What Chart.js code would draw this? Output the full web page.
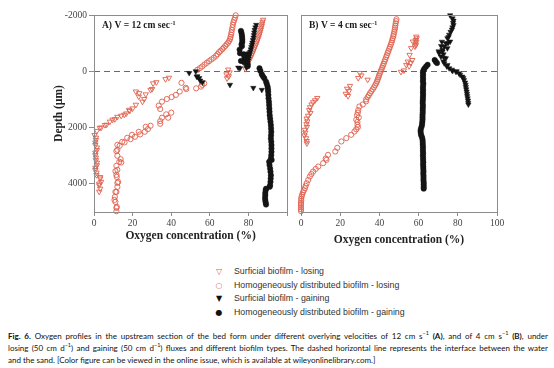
<!DOCTYPE html>
<html>
<head>
<meta charset="utf-8">
<script src="https://cdn.jsdelivr.net/npm/chart.js@4.4.0/dist/chart.umd.min.js"></script>
<style>
body { margin: 0; background: #fff; width: 554px; height: 368px; position: relative; overflow: hidden; }
#chartA { position: absolute; left: 0; top: 0; }
#chartB { position: absolute; left: 292px; top: 0; }
#legend { position: absolute; left: 212px; top: 265px; font: 8.8px "Liberation Sans", Arial, sans-serif; color: #333; }
#legend div { height: 13.7px; line-height: 13.7px; white-space: nowrap; }
#legend .m { display: inline-block; width: 14px; text-align: center; margin-right: 8px; font-family: "DejaVu Sans"; font-size: 8px; }
#caption { position: absolute; left: 8px; top: 330px; width: 540px; font: 8px Lato, sans-serif; color: #111; }
#caption div { line-height: 12px; white-space: nowrap; }
#caption .j { text-align: justify; text-align-last: justify; white-space: normal; }
#caption sup { font-size: 5.5px; line-height: 0; }
</style>
</head>
<body>
<canvas id="chartA" width="292" height="250"></canvas>
<canvas id="chartB" width="262" height="250"></canvas>
<div id="legend">
  <div><span class="m" style="color:#e0604d">&#9661;</span>Surficial biofilm - losing</div>
  <div><span class="m" style="color:#e0604d">&#9675;</span>Homogeneously distributed biofilm - losing</div>
  <div><span class="m" style="color:#111">&#9660;</span>Surficial biofilm - gaining</div>
  <div><span class="m" style="color:#111">&#9679;</span>Homogeneously distributed biofilm - gaining</div>
</div>
<div id="caption">
  <div class="j"><b>Fig. 6.</b> Oxygen profiles in the upstream section of the bed form under different overlying velocities of 12 cm s<sup>&minus;1</sup> <b>(A)</b>, and of 4 cm s<sup>&minus;1</sup> <b>(B)</b>, under</div>
  <div class="j">losing (50 cm d<sup>&minus;1</sup>) and gaining (50 cm d<sup>&minus;1</sup>) fluxes and different biofilm types. The dashed horizontal line represents the interface between the water</div>
  <div>and the sand. [Color figure can be viewed in the online issue, which is available at wileyonlinelibrary.com.]</div>
</div>
<script>
var xTicks = [0, 20, 40, 60, 80, 100];
var depthTicks = [-2000, 0, 2000, 4000];

// panel A, V = 12 cm/s
var aSurfLosX = [87.6,87.3,87.1,86.9,86.6,86.4,86.1,85.8,85.5,85.2,84.8,84.5,84.1,83.7,83.3,82.9,82.5,82.1,81.6,81.2,80.7,80.2,79.7,79.2,78.8,78.4,
  69.5,70.2,68.6,69.8,68.9,
  37.0,38.8,32.3,30.6,30.1,29.3,26.8,26.0,25.1,23.4,21.7,23.2,21.7,20.0,18.2,18.4,16.7,15.7,14.1,12.1,10.8,9.6,8.2,6.5,5.7,3.7,3.0,1.5,
  0.3,1.0,1.0,0.7,0.7,1.5,1.5,0.7,0.7,1.0,1.0,1.5,1.5,0.7,0.7,1.3,1.3,3.2,3.2,3.7,2.7,2.7,3.2,2.7];
var aSurfLosD = [-1830,-1760,-1690,-1620,-1550,-1480,-1410,-1340,-1270,-1200,-1130,-1060,-990,-920,-850,-780,-710,-640,-570,-500,-430,-360,-290,-220,-150,-80,
  -60,40,110,180,250,
  280,230,390,430,630,660,820,985,1080,780,720,900,1190,1320,1370,1410,1500,1545,1580,1620,1700,1720,1790,1900,1910,2000,2010,2120,
  2270,2360,2440,2530,2620,2710,2800,2890,2980,3070,3160,3250,3340,3430,3510,3600,3690,3760,3810,3930,3990,4050,4170,4280];

var aHomLosX = [73.4,73.0,72.6,72.2,71.9,71.7,71.4,71.2,71.0,70.7,70.5,70.0,69.5,68.7,68.0,67.2,66.5,65.6,64.8,64.0,63.2,62.0,60.8,59.6,58.4,57.2,56.0,54.8,53.5,
  57.1,55.4,52.9,56.0,47.8,44.4,45.3,47.5,42.4,40.2,37.7,35.2,33.5,34.3,40.0,38.4,37.4,35.2,34.3,34.3,29.3,26.8,27.9,26.3,23.9,23.2,21.2,19.7,18.9,17.2,15.8,14.6,13.3,12.1,
  11.6,12.1,12.1,13.8,14.1,13.1,11.6,12.1,11.1,11.6,11.8,12.1,12.5,12.1,11.6,11.1,10.8,10.6,11.1,11.8,11.6,11.6];
var aHomLosD = [-1990,-1900,-1820,-1740,-1650,-1560,-1470,-1380,-1300,-1220,-1150,-1080,-1020,-960,-900,-840,-790,-730,-680,-610,-550,-480,-420,-360,-300,-240,-170,-110,-50,
  430,545,605,480,630,720,410,585,840,915,985,1080,1220,1340,1470,1650,1530,1650,1770,1865,1935,1972,2054,2148,2243,2150,2327,2257,2410,2364,2528,2506,2647,2613,
  2837,2791,3003,3122,3241,3218,3359,3502,3549,3680,3751,3966,3929,4107,4286,4285,4463,4571,4641,4819,4856,4974];

var aSurfGainX = [84.0,83.6,83.2,83.0,82.8,82.6,82.3,82.0,81.8,81.5,81.2,80.9,80.6,80.3,80.1,79.8,79.5,79.2,79.0,75.6,74.7,
  49.3,52.7,53.5,54.5,53.2,56.2,55.0,70.4,82.5,86.9];
var aSurfGainD = [-1650,-1560,-1470,-1380,-1290,-1200,-1110,-1020,-940,-860,-780,-700,-620,-540,-460,-380,-300,-220,-140,-110,-130,
  60,0,180,240,190,390,330,480,590,660];

var aHomGainX = [76.1,76.4,76.6,76.7,76.8,76.8,76.4,76.6,75.4,75.6,77.6,77.8,79.5,78.1,76.1,77.8,79.6,79.6,
  85.7,86.2,86.9,87.5,88.2,89.1,89.5,89.9,90.1,90.2,90.3,90.4,90.6,90.7,90.8,90.9,91.0,91.2,91.4,91.6,91.7,91.8,91.7,91.6,91.8,91.9,91.9,91.9,91.8,91.6,92.0,
  90.7,90.9,91.2,91.4,91.6,91.5,91.4,91.2,91.0,89.1,88.9,88.7,88.7,88.6,88.7,88.9,89.1];
var aHomGainD = [-1436,-1360,-1280,-1200,-1120,-1040,-961,-890,-770,-640,-605,-540,-605,-463,-368,-320,-250,-180,
  -107,-12,107,180,249,368,450,546,640,724,840,961,1080,1199,1320,1436,1560,1674,1790,1911,2030,2148,2270,2386,2500,2623,2740,2861,2980,3098,3150,
  3217,3330,3454,3570,3692,3810,3929,4050,4107,4170,4226,4320,4404,4500,4582,4660,4736];

// panel B, V = 4 cm/s
var bSurfLosX = [58.8,59.0,58.6,58.8,58.4,58.6,58.2,57.1,56.2,55.4,56.8,54.5,56.0,53.7,55.2,52.5,51.0,
  30.0,30.8,29.2,34.0,25.0,23.5,24.5,22.8,24.0,8.3,7.2,6.2,5.4,4.6,4.2,4.8,3.6,2.9,3.2,2.8,3.0,2.0,2.2,1.8,2.6,2.9,3.0];
var bSurfLosD = [-1230,-1170,-1110,-1050,-990,-930,-880,-1056,-820,-582,-400,-344,-300,-225,-180,-30,20,
  60,150,240,300,520,620,700,800,880,950,1030,1100,1180,1280,1380,1480,1580,1680,1780,1880,1980,2080,2180,2280,2380,2480,2560];

var bHomLosX = [48.7,48.5,48.3,48.1,48.0,47.8,47.6,47.3,47.1,46.8,46.5,46.2,45.8,45.4,45.0,44.6,44.2,43.8,43.4,43.0,42.6,42.2,41.8,41.4,41.0,
  40.6,40.2,39.8,39.5,39.1,38.8,38.3,37.8,37.2,36.6,35.9,35.2,34.6,34.0,33.2,33.2,31.5,29.8,29.2,29.0,28.6,29.5,28.2,28.8,28.8,29.0,28.2,27.3,25.6,23.1,20.6,18.5,17.5,
  13.8,13.0,12.6,11.3,8.8,7.5,6.2,5.3,4.5,3.7,2.9,2.4,2.0,1.5,1.0,0.6,0.3,0.1,0.1,0,0,0,0,0];
var bHomLosD = [-1850,-1780,-1700,-1620,-1550,-1480,-1400,-1320,-1250,-1170,-1100,-1020,-950,-870,-800,-720,-650,-570,-500,-420,-350,-270,-200,-130,-60,
  10,80,150,220,290,360,430,500,570,640,710,780,850,920,1000,1070,1180,1250,1380,1470,1560,1640,1720,1800,1900,1980,2060,2140,2257,2375,2494,2720,2850,
  2969,3147,3100,3265,3385,3470,3564,3650,3740,3860,3977,4070,4155,4230,4300,4380,4453,4530,4600,4680,4750,4830,4900,4970];

var bSurfGainX = [76.1,77.3,77.8,77.6,77.8,77.3,77.0,76.3,75.6,75.3,74.7,76.1,75.0,73.9,73.1,74.7,72.2,71.9,71.5,70.2,72.2,70.5,71.4,72.7,73.0,73.9,72.7,73.1,74.4,74.7,75.6,77.0,77.3,
  79.4,79.0,80.6,81.2,82.3,82.8,83.2,83.7,84.0,84.1,84.3,84.5,84.7,84.8,85.0,85.2,85.3,85.4];
var bSurfGainD = [-1990,-1880,-1800,-1720,-1640,-1560,-1480,-1400,-1300,-1220,-1175,-1056,-1000,-997,-878,-819,-760,-1050,-900,-709,-700,-641,-522,-600,-480,-463,-350,-285,-176,-226,-107,-57,-12,
  0,12,71,121,190,239,309,400,480,560,640,720,800,880,960,1040,1120,1180];

var bHomGainX = [68.2,68.8,69.4,64.6,63.8,63.0,62.5,62.2,62.3,62.2,62.3,62.2,62.4,62.3,62.2,62.3,62.2,62.3,62.2,62.2,62.1,62.1,62.2,62.1,62.1,62.1,62.0,62.0,62.0,61.9,61.8,61.6,61.2,61.0,61.1,61.3,61.8,
  62.0,62.1,62.1,62.2,62.2,62.2,62.3,62.2,62.3,62.3,62.4,62.3,62.4,62.4,62.5,62.4,62.5,62.5,62.5,62.6,62.6,62.6,62.6];
var bHomGainD = [-400,-340,-290,-230,-170,-100,-40,30,110,190,270,350,430,510,590,670,750,830,910,990,1070,1150,1230,1310,1390,1470,1550,1630,1710,1790,1870,1950,2030,2110,2190,2270,2350,
  2430,2510,2590,2670,2750,2830,2910,2990,3070,3150,3230,3310,3390,3470,3550,3630,3710,3790,3870,3950,4030,4110,4170];

var red = '#e0604d';
var black = '#141414';
var serif = '"Liberation Serif", "Times New Roman", serif';

function pts(xs, ds) {
  return xs.map(function (x, i) { return { x: x, y: ds[i] }; });
}

var panelPlugin = {
  id: 'panel',
  beforeDatasetsDraw: function (chart) {
    var a = chart.chartArea, ctx = chart.ctx;
    var y0 = Math.round(chart.scales.y.getPixelForValue(0)) + 0.5;
    var ext = chart.options.plugins.panel.lineExt || 0;
    ctx.save();
    ctx.strokeStyle = '#6a6a6a';
    ctx.lineWidth = 1.2;
    ctx.setLineDash([6, 4]);
    ctx.beginPath();
    ctx.moveTo(a.left - ext, y0);
    ctx.lineTo(a.right, y0);
    ctx.stroke();
    ctx.restore();
  },
  afterDraw: function (chart) {
    var a = chart.chartArea, ctx = chart.ctx, o = chart.options.plugins.panel;
    ctx.save();
    ctx.strokeStyle = '#8c8c8c';
    ctx.lineWidth = 1;
    ctx.strokeRect(Math.round(a.left) + 0.5, Math.round(a.top) + 0.5, Math.round(a.right - a.left), Math.round(a.bottom - a.top));
    ctx.fillStyle = '#1a1a1a';
    ctx.textBaseline = 'middle';
    ctx.font = 'bold 9.5px ' + serif;
    ctx.fillText(o.title, a.left + 8, a.top + 11);
    var w = ctx.measureText(o.title).width;
    ctx.font = 'bold 6px ' + serif;
    ctx.fillText('-1', a.left + 8 + w + 0.5, a.top + 8);
    ctx.restore();
  }
};

function makePanel(id, cfg) {
  return new Chart(document.getElementById(id), {
    type: 'scatter',
    data: {
      datasets: [
        { label: 'Surficial biofilm - losing', data: pts(cfg.sl[0], cfg.sl[1]), pointStyle: 'triangle', rotation: 180,
          radius: 3.1, borderWidth: 0.9, borderColor: red, backgroundColor: 'rgba(0,0,0,0)', order: 2 },
        { label: 'Homogeneously distributed biofilm - losing', data: pts(cfg.hl[0], cfg.hl[1]), pointStyle: 'circle',
          radius: 2.6, borderWidth: 0.9, borderColor: red, backgroundColor: 'rgba(0,0,0,0)', order: 2 },
        { label: 'Surficial biofilm - gaining', data: pts(cfg.sg[0], cfg.sg[1]), pointStyle: 'triangle', rotation: 180,
          radius: 3.1, borderWidth: 0.5, borderColor: black, backgroundColor: black, order: 1 },
        { label: 'Homogeneously distributed biofilm - gaining', data: pts(cfg.hg[0], cfg.hg[1]), pointStyle: 'circle',
          radius: 2.7, borderWidth: 0.5, borderColor: black, backgroundColor: black, order: 1 }
      ]
    },
    options: {
      responsive: false,
      animation: false,
      clip: false,
      layout: { padding: { top: 15, right: cfg.padRight, left: cfg.padLeft, bottom: 0 } },
      plugins: {
        legend: { display: false },
        tooltip: { enabled: false },
        panel: { title: cfg.title, lineExt: cfg.lineExt }
      },
      scales: {
        x: {
          type: 'linear', min: 0, max: 100,
          afterBuildTicks: function (s) { s.ticks = xTicks.map(function (v) { return { value: v }; }); },
          afterFit: function (s) { s.height = 38; },
          grid: { drawOnChartArea: false, tickLength: 4, color: '#8c8c8c' },
          border: { display: false },
          ticks: {
            font: { family: serif, size: 9.5 }, color: '#444', padding: 2, maxRotation: 0, autoSkip: false,
            callback: function (v) { return (cfg.hideLast && v === 100) ? '' : String(v); }
          },
          title: {
            display: true, text: 'Oxygen concentration (%)', color: '#222',
            font: { family: serif, size: 11.5, weight: 'bold' }, padding: { top: 0, bottom: cfg.xTitlePad }
          }
        },
        y: {
          type: 'linear', reverse: true, min: -2000, max: 5000,
          display: cfg.showY,
          afterBuildTicks: function (s) { s.ticks = depthTicks.map(function (v) { return { value: v }; }); },
          afterFit: function (s) { s.width = cfg.showY ? 94 : 0; },
          grid: { drawOnChartArea: false, tickLength: 5, color: '#8c8c8c' },
          border: { display: false },
          ticks: { font: { family: serif, size: 9.5 }, color: '#444', padding: 2, callback: function (v) { return String(v); } },
          title: {
            display: true, text: 'Depth (\u00b5m)', color: '#222',
            font: { family: serif, size: 11.5, weight: 'bold' }, padding: { top: 52, bottom: 0 }
          }
        }
      }
    },
    plugins: [panelPlugin]
  });
}

makePanel('chartA', {
  sl: [aSurfLosX, aSurfLosD], hl: [aHomLosX, aHomLosD], sg: [aSurfGainX, aSurfGainD], hg: [aHomGainX, aHomGainD],
  title: 'A) V = 12 cm sec', padLeft: 0, padRight: 2, xTitlePad: 7, showY: true, hideLast: true, lineExt: 0
});
makePanel('chartB', {
  sl: [bSurfLosX, bSurfLosD], hl: [bHomLosX, bHomLosD], sg: [bSurfGainX, bSurfGainD], hg: [bHomGainX, bHomGainD],
  title: 'B) V = 4 cm sec', padLeft: 9, padRight: 57, xTitlePad: 3, showY: false, hideLast: false, lineExt: 10
});
</script>
</body>
</html>
